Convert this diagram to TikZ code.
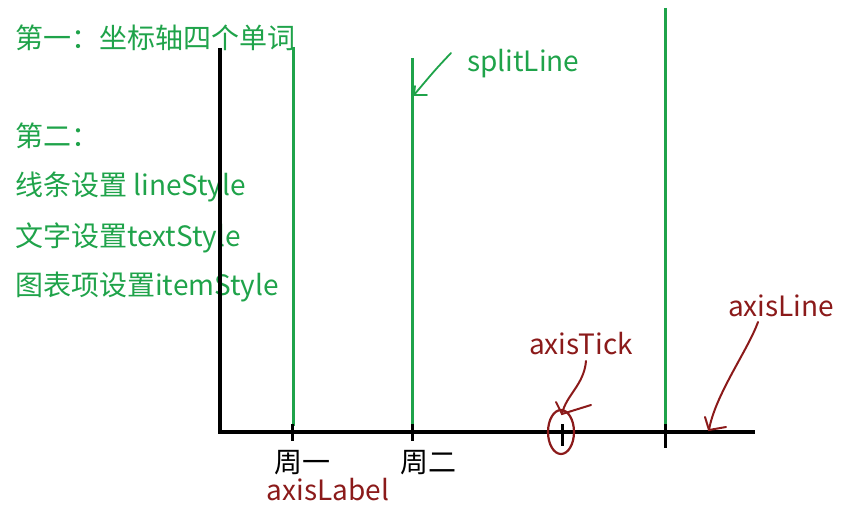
\documentclass[tikz,border=0pt]{standalone}
\usepackage{fontspec}
\setmainfont{Noto Sans CJK SC}
\usetikzlibrary{arrows.meta, shapes.geometric}

\definecolor{notegreen}{HTML}{1FA34A}
\definecolor{notered}{HTML}{8B1A1A}

\begin{document}
\begin{tikzpicture}[x=1pt, y=-1pt, font=\fontsize{28}{32}\selectfont,
  axis/.style={line width=3.4pt, black},
  split/.style={line width=3pt, notegreen},
  hand/.style={line width=2pt, notered, line cap=round},
  greentext/.style={text=notegreen, inner sep=0pt, anchor=base west},
  redtext/.style={text=notered, inner sep=0pt, anchor=base},
  label/.style={inner sep=0pt, anchor=base}]

\useasboundingbox (0,0) rectangle (852,508);

% notes on the left
\node[greentext] (n1) at (15,49) {第一：坐标轴四个单词};
\node[greentext] (n2) at (15,147) {第二：};
\node[greentext] (n3) at (15,196) {线条设置 lineStyle};
\node[greentext] (n4) at (15,246) {文字设置textStyle};
\node[greentext] (n5) at (15,295) {图表项设置itemStyle};

% axes
\coordinate (o) at (220,432);
\coordinate (ytop) at (220,48);
\coordinate (xend) at (755,432);
\draw[axis] (ytop) -- (o) -- (xend);

% split lines
\coordinate (s1top) at (293,47);
\coordinate (s1bot) at (293,426);
\coordinate (s2top) at (412,58);
\coordinate (s2bot) at (412,426);
\coordinate (s3top) at (665,8);
\coordinate (s3bot) at (665,426);
\draw[split] (s1top) -- (s1bot);
\draw[split] (s2top) -- (s2bot);
\draw[split] (s3top) -- (s3bot);

% ticks
\foreach \x/\y in {292/441, 412/441, 562/446, 665/448}
  \draw[line width=3pt] (\x,424) -- (\x,\y);

% axis labels
\node[label] (mon) at (302,472) {周一};
\node[label] (tue) at (428,472) {周二};
\node[redtext] (axlabel) at (328,500) {axisLabel};

% splitLine note
\node[greentext] (splittext) at (467,72) {splitLine};
\coordinate (sa) at (451,53);
\coordinate (sb) at (414,95);
\draw[notegreen, line width=1.8pt, line cap=round] (sa) .. controls (435,70) .. (sb);
\draw[notegreen, line width=1.8pt, line cap=round] (427,95) -- (sb) -- (415,86);

% axisTick note
\node[redtext] (ticktext) at (581,354) {axisTick};
\node[draw=notered, line width=2.2pt, ellipse, minimum width=26pt, minimum height=44pt,
  inner sep=0pt] (tickring) at (561,432) {};
\coordinate (ta) at (586,361);
\coordinate (tb) at (562,414);
\draw[hand] (ta) .. controls (584,385) and (566,395) .. (tb);
\draw[hand] (556,402) -- (tb) -- (591,405);

% axisLine note
\node[redtext] (linetext) at (781,316) {axisLine};
\coordinate (la) at (758,322);
\coordinate (lb) at (709,430);
\draw[hand] (la) .. controls (748,350) and (715,395) .. (lb);
\draw[hand] (705,417) -- (lb) -- (726,427);

\end{tikzpicture}
\end{document}
